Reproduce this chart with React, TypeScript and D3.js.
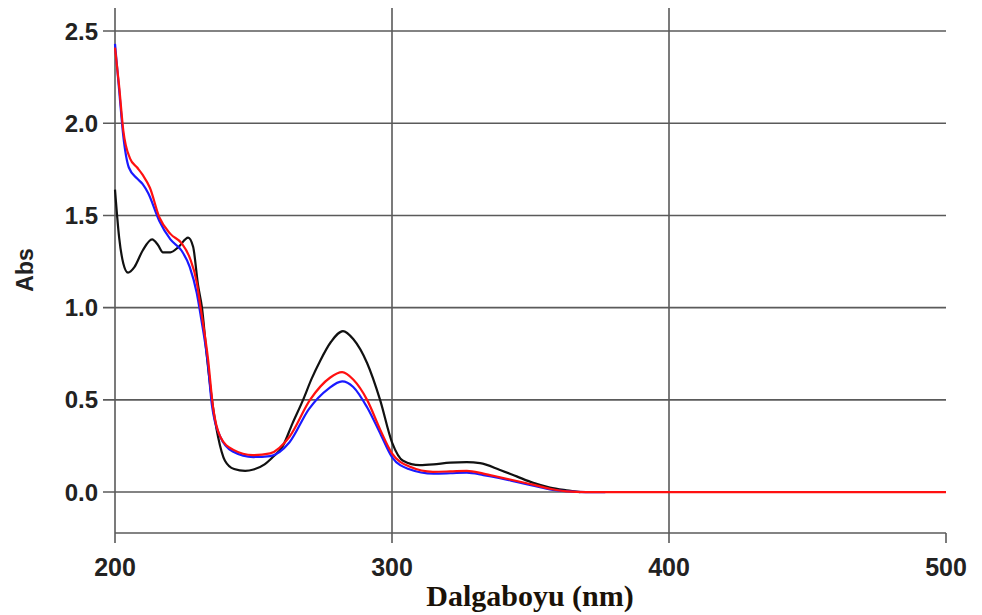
import React from "react";
import * as d3 from "d3";

const W = 982;
const H = 615;

const xTicks = [200, 300, 400, 500];
const yTicks = [0.0, 0.5, 1.0, 1.5, 2.0, 2.5];

const blackWl = [200, 201.5, 203, 204.7, 207, 210, 213.4, 215.5, 217.3, 220, 223, 226.4, 228.2, 230, 231.4, 233, 235, 237.2, 239.7, 243, 247, 250, 254, 257, 260.6, 264, 267.9, 271, 274, 278, 282.3, 286, 291, 295.7, 300, 304, 310, 315, 321, 327, 331.8, 339, 345, 351, 357, 363, 368];
const blackAbs = [1.64, 1.38, 1.24, 1.19, 1.22, 1.31, 1.37, 1.34, 1.3, 1.3, 1.33, 1.38, 1.33, 1.12, 1.0, 0.76, 0.5, 0.3, 0.17, 0.125, 0.115, 0.122, 0.15, 0.19, 0.25, 0.37, 0.5, 0.615, 0.71, 0.815, 0.873, 0.83, 0.7, 0.5, 0.27, 0.17, 0.146, 0.15, 0.16, 0.162, 0.157, 0.12, 0.085, 0.05, 0.025, 0.01, 0.0];

const redWl = [200, 201.5, 203, 205.4, 208, 210, 212.6, 216, 220, 224, 227, 229.6, 230.7, 233.6, 235.4, 238, 242.6, 249.8, 256, 263, 270.4, 277.6, 282, 286, 291, 295.7, 300, 306.5, 314.8, 321, 327, 333, 339, 345, 351, 357, 363, 370, 380, 400, 450, 500];
const redAbs = [2.41, 2.2, 1.96, 1.81, 1.76, 1.72, 1.65, 1.49, 1.4, 1.35, 1.27, 1.13, 1.02, 0.72, 0.46, 0.3, 0.23, 0.2, 0.21, 0.3, 0.5, 0.62, 0.65, 0.61, 0.5, 0.34, 0.21, 0.137, 0.11, 0.112, 0.115, 0.1, 0.08, 0.06, 0.04, 0.018, 0.004, 0.0, 0.0, 0.0, 0.0, 0.0];

const blueWl = [200, 201.5, 203, 205, 208, 210, 212, 216, 220, 224, 227, 229.5, 231, 233.5, 235, 238, 242.5, 250, 256, 263, 270, 277, 282, 286, 291, 296, 300, 306, 315, 321, 327, 333, 339, 345, 351, 357, 363, 370, 377];
const blueAbs = [2.43, 2.18, 1.93, 1.76, 1.7, 1.67, 1.62, 1.47, 1.37, 1.31, 1.22, 1.08, 0.95, 0.7, 0.47, 0.3, 0.22, 0.19, 0.195, 0.27, 0.45, 0.56, 0.6, 0.57, 0.46, 0.31, 0.19, 0.125, 0.1, 0.102, 0.105, 0.092, 0.075, 0.055, 0.035, 0.015, 0.005, 0.0, 0.0];

const seriesList = [
  { name: "black", wl: blackWl, abs: blackAbs, color: "#111111" },
  { name: "blue", wl: blueWl, abs: blueAbs, color: "#1a1aff" },
  { name: "red", wl: redWl, abs: redAbs, color: "#ff1010" },
];

export default function App() {
  const x = d3.scaleLinear().domain([200, 500]).range([115, 946]);
  const y = d3.scaleLinear().domain([-0.222, 2.625]).range([533, 8]);
  const line = d3
    .line<[number, number]>()
    .x((d) => x(d[0]))
    .y((d) => y(d[1]))
    .curve(d3.curveMonotoneX);

  const gridColor = "#5a5a5a";
  const top = y(2.625);
  const bottom = y(-0.222);

  return (
    <svg
      width={W}
      height={H}
      style={{ position: "absolute", left: 0, top: 0, background: "#fff" }}
    >
      {yTicks.map((t) => (
        <line
          key={"hy" + t}
          x1={103}
          x2={x(500)}
          y1={y(t)}
          y2={y(t)}
          stroke={gridColor}
          strokeWidth={1.6}
        />
      ))}
      {xTicks.map((t) =>
        t < 500 ? (
          <line
            key={"vx" + t}
            x1={x(t)}
            x2={x(t)}
            y1={top}
            y2={bottom + 10}
            stroke={gridColor}
            strokeWidth={1.6}
          />
        ) : (
          <line
            key={"vx" + t}
            x1={x(t)}
            x2={x(t)}
            y1={bottom}
            y2={bottom + 10}
            stroke={gridColor}
            strokeWidth={1.6}
          />
        )
      )}
      <line
        x1={x(200)}
        x2={x(500)}
        y1={bottom}
        y2={bottom}
        stroke={gridColor}
        strokeWidth={1.6}
      />
      {yTicks.map((t) => (
        <text
          key={"ty" + t}
          x={98}
          y={y(t)}
          dy="0.36em"
          textAnchor="end"
          fontFamily="Liberation Sans, Arial, sans-serif"
          fontWeight="bold"
          fontSize={24}
          fill="#222"
        >
          {t.toFixed(1)}
        </text>
      ))}
      {xTicks.map((t) => (
        <text
          key={"tx" + t}
          x={x(t)}
          y={576}
          textAnchor="middle"
          fontFamily="Liberation Sans, Arial, sans-serif"
          fontWeight="bold"
          fontSize={25}
          fill="#222"
        >
          {t}
        </text>
      ))}
      <text
        transform={`translate(33,270) rotate(-90)`}
        textAnchor="middle"
        fontFamily="Liberation Sans, Arial, sans-serif"
        fontWeight="bold"
        fontSize={23}
        fill="#222"
      >
        Abs
      </text>
      <text
        x={530}
        y={606}
        textAnchor="middle"
        fontFamily="Liberation Serif, Times New Roman, serif"
        fontWeight="bold"
        fontSize={30}
        fill="#1a1208"
      >
        Dalgaboyu (nm)
      </text>
      {seriesList.map((s) => (
        <path
          key={s.name}
          d={line(s.wl.map((w, i) => [w, s.abs[i]] as [number, number])) || ""}
          fill="none"
          stroke={s.color}
          strokeWidth={2.2}
          strokeLinejoin="round"
        />
      ))}
    </svg>
  );
}
